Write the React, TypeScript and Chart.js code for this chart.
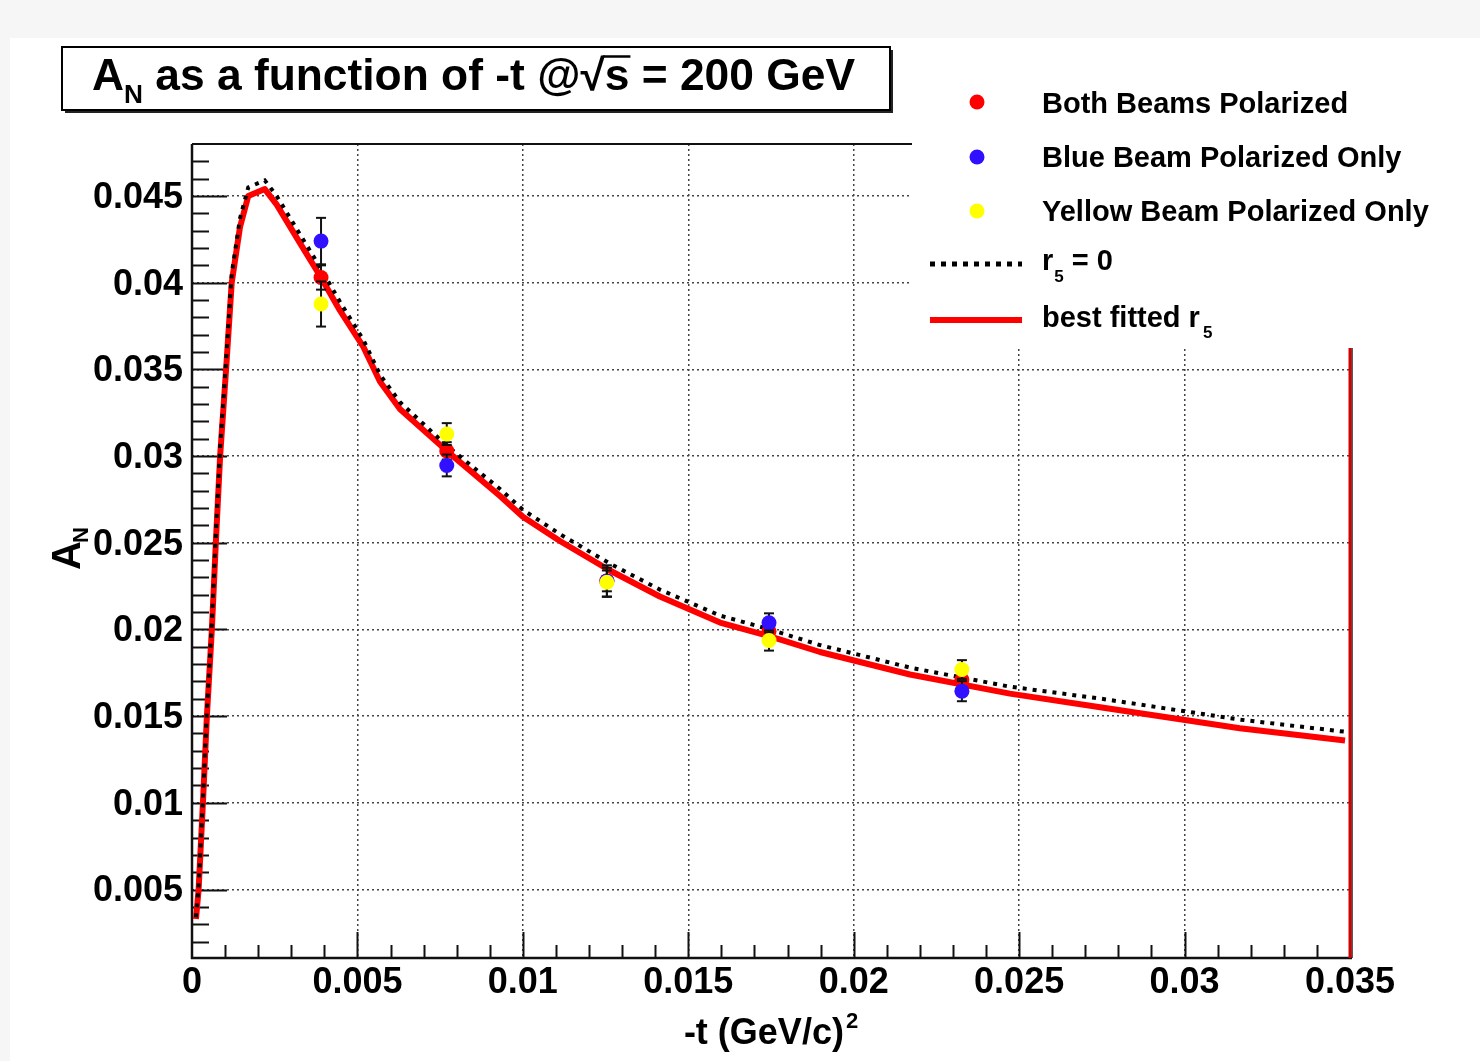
import { useEffect, useRef } from "react";
import { Chart, registerables } from "chart.js";

Chart.register(...registerables);

// Measured points: -t bins and A_N for the three polarization configurations
const tValues = [0.0039, 0.0077, 0.01254, 0.01744, 0.02327];
const bothValues = [0.0403, 0.0303, 0.0228, 0.0199, 0.0171];
const bothErrors = [0.0007, 0.0005, 0.0006, 0.0004, 0.0004];
const blueValues = [0.0424, 0.02946, 0.0228, 0.02038, 0.01644];
const blueErrors = [0.00134, 0.00063, 0.0009, 0.00055, 0.00058];
const yellowValues = [0.03877, 0.03127, 0.02272, 0.01936, 0.01769];
const yellowErrors = [0.0013, 0.00063, 0.00084, 0.00058, 0.00054];

// Theory curves sampled along -t
const curveT = [
  0.00012, 0.0002, 0.00033, 0.00045, 0.0006, 0.00072, 0.00085, 0.00103, 0.0012,
  0.00145, 0.0017, 0.0022, 0.00256, 0.00326, 0.0039, 0.00447, 0.00518, 0.00568,
  0.00629, 0.0077, 0.00931, 0.01, 0.01112, 0.01263, 0.01414, 0.01596, 0.01747,
  0.01898, 0.0217, 0.02472, 0.0275, 0.03167, 0.03485,
];
const bestFitValues = [
  0.0033, 0.005, 0.01, 0.015, 0.02, 0.025, 0.03, 0.035, 0.04,
  0.0432, 0.045, 0.0454, 0.0445, 0.0423, 0.0403, 0.0384, 0.0363, 0.0343,
  0.0327, 0.0303, 0.0277, 0.0265, 0.0251, 0.0234, 0.0219, 0.0204, 0.0196,
  0.0187, 0.0174, 0.0163, 0.0155, 0.0143, 0.0136,
];
const r5ZeroValues = [
  0.0034, 0.0052, 0.0102, 0.0153, 0.0204, 0.0255, 0.0305, 0.0355, 0.0405,
  0.0437, 0.0455, 0.0459, 0.045, 0.0428, 0.0408, 0.0389, 0.0367, 0.0347,
  0.0331, 0.0306, 0.0281, 0.0269, 0.0255, 0.0238, 0.0223, 0.0208, 0.02,
  0.0191, 0.0178, 0.0167, 0.016, 0.0148, 0.0141,
];

const xMajorTicks = [0, 0.005, 0.01, 0.015, 0.02, 0.025, 0.03, 0.035];
const xTickLabels = ["0", "0.005", "0.01", "0.015", "0.02", "0.025", "0.03", "0.035"];
const yMajorTicks = [0.005, 0.01, 0.015, 0.02, 0.025, 0.03, 0.035, 0.04, 0.045];
const yTickLabels = ["0.005", "0.01", "0.015", "0.02", "0.025", "0.03", "0.035", "0.04", "0.045"];

const RED = "#ff0000";
const BLUE = "#3010ff";
const YELLOW = "#ffff00";
const FONT = '"Liberation Sans", Arial, Helvetica, sans-serif';

const LEGEND_LEFT = 912;
const LEGEND_BOTTOM = 348;

function labelFor(ticks: number[], labels: string[], v: number) {
  const i = ticks.findIndex((t) => Math.abs(t - v) < 1e-9);
  return i >= 0 ? labels[i] : "";
}

function line(ctx: CanvasRenderingContext2D, x1: number, y1: number, x2: number, y2: number) {
  ctx.beginPath();
  ctx.moveTo(x1, y1);
  ctx.lineTo(x2, y2);
  ctx.stroke();
}

// Frame and inward tick marks, drawn under the datasets
const framePlugin = {
  id: "frame",
  beforeDatasetsDraw(chart: any) {
    const { ctx, chartArea: a, scales } = chart;
    const x = scales.x;
    const y = scales.y;
    ctx.save();
    ctx.strokeStyle = "#111";
    ctx.lineWidth = 2;
    for (let k = 1; k < 35; k++) {
      const px = Math.round(x.getPixelForValue(k / 1000)) + 0.5;
      const len = k % 5 === 0 ? 26 : 13;
      line(ctx, px, a.bottom, px, a.bottom - len);
    }
    for (let k = 2; k <= 47; k++) {
      const py = Math.round(y.getPixelForValue(k / 1000)) + 0.5;
      const len = k % 5 === 0 ? 35 : 17;
      line(ctx, a.left, py, a.left + len, py);
    }
    ctx.lineWidth = 2.5;
    line(ctx, a.left, a.top, a.left, a.bottom + 1);
    line(ctx, a.left - 1, a.bottom, a.right + 2, a.bottom);
    ctx.lineWidth = 2;
    line(ctx, a.left, a.top, LEGEND_LEFT, a.top);
    ctx.strokeStyle = "#222";
    ctx.lineWidth = 1.5;
    line(ctx, a.right + 2, LEGEND_BOTTOM, a.right + 2, a.bottom);
    ctx.strokeStyle = "#d40000";
    ctx.lineWidth = 3;
    line(ctx, a.right, LEGEND_BOTTOM, a.right, a.bottom);
    ctx.restore();
  },
};

// Vertical error bars with caps, drawn just before each marker set
const errorBarPlugin = {
  id: "errorBars",
  beforeDatasetDraw(chart: any, args: any) {
    const ds = chart.data.datasets[args.index];
    if (!ds.errors) return;
    const { ctx, scales } = chart;
    ctx.save();
    ctx.strokeStyle = "#111";
    ctx.lineWidth = 2;
    ds.data.forEach((p: any, i: number) => {
      const px = scales.x.getPixelForValue(p.x);
      const top = scales.y.getPixelForValue(p.y + ds.errors[i]);
      const bot = scales.y.getPixelForValue(p.y - ds.errors[i]);
      line(ctx, px, top, px, bot);
      line(ctx, px - 5, top, px + 5, top);
      line(ctx, px - 5, bot, px + 5, bot);
    });
    ctx.restore();
  },
};

function drawTitle(ctx: CanvasRenderingContext2D) {
  ctx.save();
  ctx.fillStyle = "#222";
  ctx.fillRect(65, 50, 828, 63);
  ctx.fillStyle = "#fff";
  ctx.fillRect(62, 47, 828, 63);
  ctx.strokeStyle = "#000";
  ctx.lineWidth = 2;
  ctx.strokeRect(62, 47, 828, 63);

  const big = `bold 44px ${FONT}`;
  const small = `bold 26px ${FONT}`;
  ctx.font = big;
  const wA = ctx.measureText("A").width;
  const wMid = ctx.measureText(" as a function of -t @").width;
  const wRoot = ctx.measureText("\u221A").width;
  const wS = ctx.measureText("s").width;
  const wEnd = ctx.measureText(" = 200 GeV").width;
  ctx.font = small;
  const wN = ctx.measureText("N").width;
  const total = wA + wN + wMid + wRoot + wS + wEnd;
  const sx = (855 - 92) / total;

  ctx.translate(92, 90);
  ctx.scale(sx, 1);
  ctx.fillStyle = "#000";
  ctx.textBaseline = "alphabetic";
  let cx = 0;
  ctx.font = big;
  ctx.fillText("A", cx, 0);
  cx += wA;
  ctx.font = small;
  ctx.fillText("N", cx, 13);
  cx += wN;
  ctx.font = big;
  ctx.fillText(" as a function of -t @", cx, 0);
  cx += wMid;
  ctx.fillText("\u221A", cx, 0);
  const rootTop = -ctx.measureText("\u221A").actualBoundingBoxAscent;
  cx += wRoot;
  ctx.fillText("s", cx, 0);
  ctx.lineWidth = 2.5;
  line(ctx, cx - 2, rootTop + 1.5, cx + wS + 1, rootTop + 1.5);
  cx += wS;
  ctx.fillText(" = 200 GeV", cx, 0);
  ctx.restore();
}

function drawLegend(ctx: CanvasRenderingContext2D) {
  ctx.save();
  ctx.fillStyle = "#fff";
  ctx.fillRect(LEGEND_LEFT, 125, 1480 - LEGEND_LEFT, LEGEND_BOTTOM - 125);

  const markers = [
    { color: RED, y: 102, text: "Both Beams Polarized", base: 112.5 },
    { color: BLUE, y: 157, text: "Blue Beam Polarized Only", base: 167 },
    { color: YELLOW, y: 211, text: "Yellow Beam Polarized Only", base: 221 },
  ];
  const tf = `bold 29px ${FONT}`;
  const sf = `bold 17px ${FONT}`;
  ctx.textBaseline = "alphabetic";
  for (const m of markers) {
    ctx.fillStyle = m.color;
    ctx.beginPath();
    ctx.arc(977, m.y, 7.5, 0, Math.PI * 2);
    ctx.fill();
    ctx.fillStyle = "#000";
    ctx.font = tf;
    ctx.fillText(m.text, 1042, m.base);
  }

  ctx.strokeStyle = "#000";
  ctx.lineWidth = 5;
  ctx.setLineDash([5, 6]);
  line(ctx, 930, 264, 1022, 264);
  ctx.setLineDash([]);
  ctx.strokeStyle = RED;
  ctx.lineWidth = 6;
  line(ctx, 930, 320, 1022, 320);

  ctx.fillStyle = "#000";
  ctx.font = tf;
  ctx.fillText("r", 1042, 270);
  let w = ctx.measureText("r").width;
  ctx.font = sf;
  ctx.fillText("5", 1042 + w + 1, 282);
  const w5 = ctx.measureText("5").width;
  ctx.font = tf;
  ctx.fillText(" = 0", 1042 + w + w5 + 1, 270);

  ctx.fillText("best fitted r", 1042, 327);
  w = ctx.measureText("best fitted r").width;
  ctx.font = sf;
  ctx.fillText("5", 1042 + w + 3, 338);
  ctx.restore();
}

function drawAxisTitles(ctx: CanvasRenderingContext2D, a: any) {
  ctx.save();
  ctx.fillStyle = "#000";
  ctx.textBaseline = "alphabetic";
  const f = `bold 36px ${FONT}`;
  const sup = `bold 22px ${FONT}`;
  ctx.font = f;
  const wMain = ctx.measureText("-t (GeV/c)").width;
  ctx.font = sup;
  const w2 = ctx.measureText("2").width;
  const startX = (a.left + a.right) / 2 - (wMain + w2 + 2) / 2;
  ctx.font = f;
  ctx.fillText("-t (GeV/c)", startX, 1044);
  ctx.font = sup;
  ctx.fillText("2", startX + wMain + 2, 1028);

  ctx.translate(80, 570);
  ctx.rotate(-Math.PI / 2);
  ctx.font = `bold 40px ${FONT}`;
  ctx.fillText("A", 0, 0);
  const wA = ctx.measureText("A").width;
  ctx.font = `bold 22px ${FONT}`;
  ctx.fillText("N", wA - 2, 8);
  ctx.restore();
}

const overlayPlugin = {
  id: "overlay",
  afterDraw(chart: any) {
    const { ctx, chartArea } = chart;
    drawLegend(ctx);
    drawTitle(ctx);
    drawAxisTitles(ctx, chartArea);
  },
};

const bgPlugin = {
  id: "bg",
  beforeDraw(chart: any) {
    const { ctx, width, height } = chart;
    ctx.save();
    ctx.fillStyle = "#f6f6f6";
    ctx.fillRect(0, 0, width, height);
    ctx.fillStyle = "#fff";
    ctx.fillRect(10, 38, width - 10, height - 38);
    ctx.restore();
  },
};

export default function App() {
  const ref = useRef<HTMLCanvasElement | null>(null);

  useEffect(() => {
    const canvas = ref.current;
    if (!canvas) return;
    const pts = (xs: number[], ys: number[]) => xs.map((x, i) => ({ x, y: ys[i] }));
    const tickFont = { family: FONT, size: 36, weight: "bold" as const };

    const chart = new Chart(canvas, {
      type: "scatter",
      data: {
        datasets: [
          {
            label: "best fitted r5",
            data: pts(curveT, bestFitValues),
            showLine: true,
            borderColor: RED,
            borderWidth: 6,
            pointRadius: 0,
            tension: 0,
            borderJoinStyle: "round",
            order: 4,
          },
          {
            label: "r5 = 0",
            data: pts(curveT, r5ZeroValues),
            showLine: true,
            borderColor: "#000",
            borderWidth: 4,
            borderDash: [4, 6],
            pointRadius: 0,
            tension: 0,
            order: 3,
          },
          {
            label: "Both Beams Polarized",
            data: pts(tValues, bothValues),
            errors: bothErrors,
            pointRadius: 7.5,
            pointBorderWidth: 0,
            backgroundColor: RED,
            borderColor: RED,
            order: 2,
          } as any,
          {
            label: "Blue Beam Polarized Only",
            data: pts(tValues, blueValues),
            errors: blueErrors,
            pointRadius: 7.5,
            pointBorderWidth: 0,
            backgroundColor: BLUE,
            borderColor: BLUE,
            order: 1,
          } as any,
          {
            label: "Yellow Beam Polarized Only",
            data: pts(tValues, yellowValues),
            errors: yellowErrors,
            pointRadius: 7.5,
            pointBorderWidth: 0,
            backgroundColor: YELLOW,
            borderColor: YELLOW,
            order: 0,
          } as any,
        ],
      },
      options: {
        animation: false,
        responsive: false,
        devicePixelRatio: 1,
        events: [],
        layout: { padding: { top: 144, left: 0, right: 130, bottom: 0 } },
        plugins: {
          legend: { display: false },
          tooltip: { enabled: false },
          title: { display: false },
        },
        scales: {
          x: {
            type: "linear",
            min: 0,
            max: 0.035,
            afterFit: (s: any) => {
              s.height = 103;
            },
            afterBuildTicks: (s: any) => {
              s.ticks = xMajorTicks.map((v) => ({ value: v }));
            },
            ticks: {
              callback: (v: any) => labelFor(xMajorTicks, xTickLabels, Number(v)),
              font: tickFont,
              color: "#000",
              padding: 3,
              maxRotation: 0,
              autoSkip: false,
            },
            grid: { color: "#444", lineWidth: 1.5, drawTicks: false },
            border: { display: false, dash: [2, 3] },
          },
          y: {
            type: "linear",
            min: 0.00105,
            max: 0.048,
            afterFit: (s: any) => {
              s.width = 192;
            },
            afterBuildTicks: (s: any) => {
              s.ticks = yMajorTicks.map((v) => ({ value: v }));
            },
            ticks: {
              callback: (v: any) => labelFor(yMajorTicks, yTickLabels, Number(v)),
              font: tickFont,
              color: "#000",
              padding: 9,
              labelOffset: 2,
              autoSkip: false,
            },
            grid: { color: "#444", lineWidth: 1.5, drawTicks: false },
            border: { display: false, dash: [2, 3] },
          },
        },
      },
      plugins: [bgPlugin, framePlugin, errorBarPlugin, overlayPlugin],
    });

    return () => chart.destroy();
  }, []);

  return (
    <div style={{ position: "absolute", left: 0, top: 0, width: 1480, height: 1061, background: "#fff" }}>
      <canvas ref={ref} width={1480} height={1061} style={{ display: "block" }} />
    </div>
  );
}
